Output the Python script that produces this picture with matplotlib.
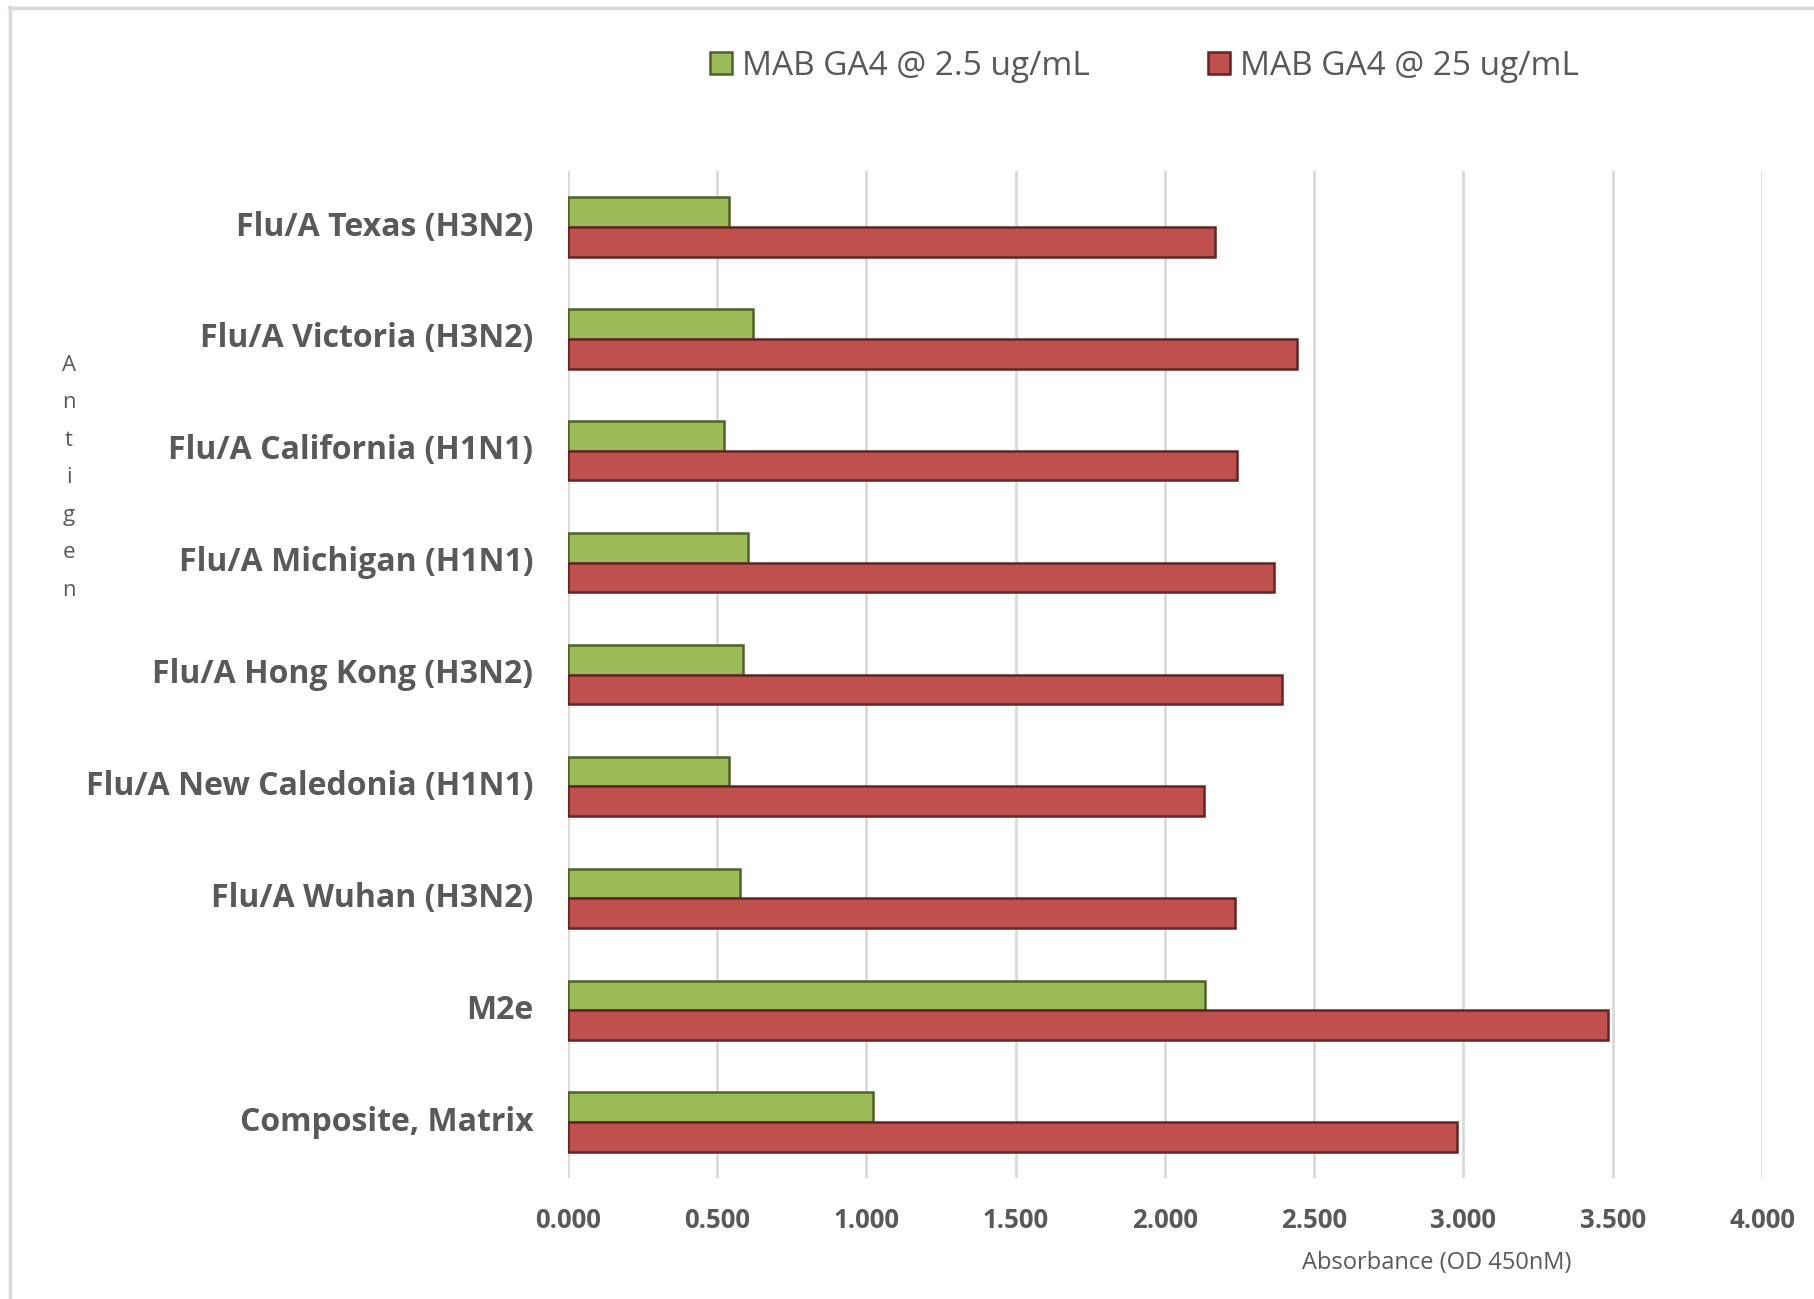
import matplotlib
matplotlib.use("Agg")
import matplotlib.pyplot as plt
from matplotlib.patches import Patch
from matplotlib.lines import Line2D
import numpy as np

categories = ["Flu/A Texas (H3N2)", "Flu/A Victoria (H3N2)", "Flu/A California (H1N1)",
              "Flu/A Michigan (H1N1)", "Flu/A Hong Kong (H3N2)", "Flu/A New Caledonia (H1N1)",
              "Flu/A Wuhan (H3N2)", "M2e", "Composite, Matrix"]
low_dose = [0.538, 0.620, 0.522, 0.602, 0.588, 0.538, 0.577, 2.135, 1.021]
high_dose = [2.168, 2.443, 2.242, 2.365, 2.393, 2.130, 2.233, 3.483, 2.977]
series_names = ["MAB GA4 @ 2.5 ug/mL", "MAB GA4 @ 25 ug/mL"]
xticks = [0.0, 0.5, 1.0, 1.5, 2.0, 2.5, 3.0, 3.5, 4.0]
xtick_labels = ["0.000", "0.500", "1.000", "1.500", "2.000", "2.500", "3.000", "3.500", "4.000"]

plt.rcParams['font.family'] = ['Open Sans', 'DejaVu Sans']

GREEN, GREEN_EDGE = "#9bbb59", "#4f6228"
RED, RED_EDGE = "#c0504d", "#632523"
GRAY = "#595959"

fig = plt.figure(figsize=(18.15, 12.99), dpi=100)
ax = fig.add_axes([0.3129, 0.0931, 0.6579, 0.7752])

n = len(categories)
y = np.arange(n)
h = 0.265
ax.barh(y - h / 2, low_dose, height=h, color=GREEN, edgecolor=GREEN_EDGE, linewidth=1.8, zorder=3)
ax.barh(y + h / 2, high_dose, height=h, color=RED, edgecolor=RED_EDGE, linewidth=1.8, zorder=3)

ax.set_ylim(n - 0.5, -0.5)
ax.set_xlim(0, 4.0)
ax.set_xticks(xticks)
ax.set_xticklabels(xtick_labels, fontsize=18.5, fontweight='bold', color=GRAY)
ax.set_yticks(y)
ax.set_yticklabels(categories, fontsize=23, fontweight='bold', color=GRAY, va='center')
ax.tick_params(axis='both', length=0)
ax.tick_params(axis='x', pad=21)
ax.tick_params(axis='y', pad=25)
for s in ax.spines.values():
    s.set_visible(False)
ax.grid(axis='x', color="#d9d9d9", linewidth=2, zorder=0)
ax.set_axisbelow(True)

fig.text(0.7917, 0.0278, "Absorbance (OD 450nM)", fontsize=17, color=GRAY, ha='center', va='center')
fig.text(0.038, 0.6322, "\n".join("Antigen"), fontsize=16, color=GRAY, ha='center', va='center',
         linespacing=2.03)

handles = [Patch(facecolor=GREEN, edgecolor=GREEN_EDGE, linewidth=1.8),
           Patch(facecolor=RED, edgecolor=RED_EDGE, linewidth=1.8)]
leg = fig.legend(handles, series_names, loc='center', bbox_to_anchor=(0.6306, 0.949), ncol=2,
                 frameon=False, fontsize=24, handlelength=0.65, handleheight=0.65,
                 handletextpad=0.3, columnspacing=3.55, labelcolor=GRAY)

# figure border (top and left)
fig.add_artist(Line2D([0.005, 1.0], [0.9935, 0.9935], color="#d9d9d9", linewidth=2.5,
                      transform=fig.transFigure))
fig.add_artist(Line2D([0.0055, 0.0055], [0.0, 0.9945], color="#d9d9d9", linewidth=2.5,
                      transform=fig.transFigure))

fig.savefig("out.png", dpi=100, facecolor="white")
